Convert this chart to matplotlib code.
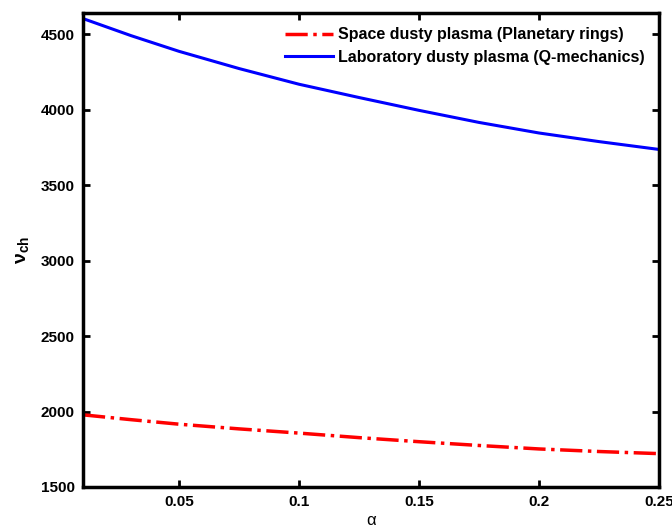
import matplotlib
matplotlib.use('Agg')
import matplotlib.pyplot as plt

# values
alpha = [0.01, 0.03, 0.05, 0.075, 0.1, 0.125, 0.15, 0.175, 0.2, 0.225, 0.25]
nu_lab = [4603, 4490, 4386, 4272, 4168, 4080, 3995, 3915, 3845, 3788, 3736]
nu_space = [1978, 1946, 1916, 1885, 1857, 1827, 1800, 1775, 1752, 1735, 1721]

xticks = [0.05, 0.1, 0.15, 0.2, 0.25]
xticklabels = ['0.05', '0.1', '0.15', '0.2', '0.25']
yticks = [1500, 2000, 2500, 3000, 3500, 4000, 4500]

plt.rcParams['font.family'] = ['Liberation Sans', 'DejaVu Sans']
plt.rcParams['font.weight'] = 'bold'
plt.rcParams['mathtext.fontset'] = 'custom'
plt.rcParams['mathtext.rm'] = 'Liberation Sans'
plt.rcParams['mathtext.bf'] = 'Liberation Sans:bold'

fig = plt.figure(figsize=(6.72, 5.32), dpi=100)
ax = fig.add_axes([0.1235, 0.0846, 0.8572, 0.891])

ax.plot(alpha, nu_space, color='red', linestyle='-.', linewidth=2.5,
        label='Space dusty plasma (Planetary rings)')
ax.plot(alpha, nu_lab, color='blue', linestyle='-', linewidth=2.2,
        label='Laboratory dusty plasma (Q-mechanics)')

ax.set_xlim(0.01, 0.25)
ax.set_ylim(1500, 4640)
ax.set_xticks(xticks)
ax.set_xticklabels(xticklabels)
ax.set_yticks(yticks)
ax.tick_params(direction='in', length=5, width=2, top=True, right=True,
               labelsize=11, pad=6)
for t in ax.get_xticklabels() + ax.get_yticklabels():
    t.set_fontweight('bold')
for s in ax.spines.values():
    s.set_linewidth(2.5)

ax.set_xlabel('α', fontsize=12, fontweight='normal', labelpad=3)
ax.set_ylabel(r'$\mathrm{\nu}_{\mathbf{ch}}$', fontsize=14, labelpad=6)

leg = ax.legend(loc='upper right', frameon=False, fontsize=11.5,
                handlelength=3.0, handletextpad=0.3, borderaxespad=0.5,
                labelspacing=0.45)
for t in leg.get_texts():
    t.set_fontweight('bold')

fig.savefig('out.png', dpi=100)
